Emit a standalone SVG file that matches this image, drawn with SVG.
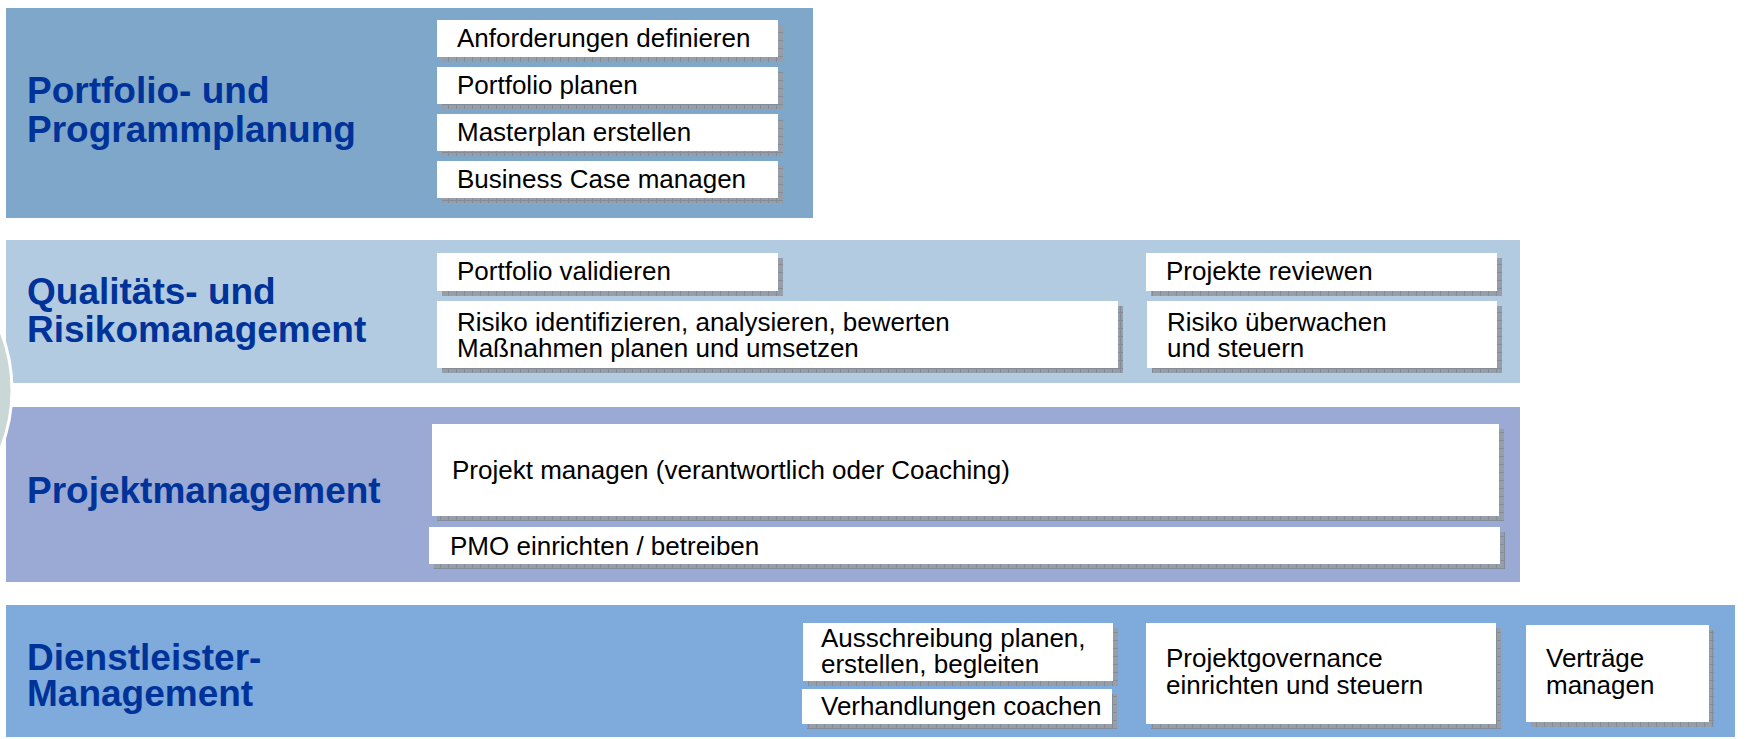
<svg xmlns="http://www.w3.org/2000/svg" width="1746" height="739" viewBox="0 0 1746 739">
<style>
.title{font-family:"Liberation Sans",Arial,sans-serif;font-weight:bold;font-size:37px;fill:#003399}
.txt{font-family:"Liberation Sans",Arial,sans-serif;font-size:26px;fill:#000}
.box{fill:#ffffff}
.sh{fill:url(#shp)}
</style>
<defs>
<pattern id="shp" width="8" height="8" patternUnits="userSpaceOnUse">
<rect width="8" height="8" fill="#959ea9"/>
<path d="M0 0.5H8M0.5 0V8" stroke="#838c97" stroke-width="1"/>
</pattern>
</defs>
<rect width="1746" height="739" fill="#ffffff"/>

<g id="band-portfolio">
<rect x="6" y="8" width="807" height="210" fill="#7fa7ca"/>
<text class="title" x="27" y="103">Portfolio- und</text>
<text class="title" x="27" y="142">Programmplanung</text>
</g>
<g id="band-qualitaet">
<rect x="6" y="240" width="1514" height="143" fill="#b3cbe0"/>
<text class="title" x="27" y="304">Qualitäts- und</text>
<text class="title" x="27" y="342">Risikomanagement</text>
</g>
<g id="band-projekt">
<rect x="6" y="407" width="1514" height="175" fill="#9aaad4"/>
<text class="title" x="27" y="503">Projektmanagement</text>
</g>
<g id="band-dienstleister">
<rect x="6" y="605" width="1729" height="132" fill="#7faadc"/>
<text class="title" x="27" y="670">Dienstleister-</text>
<text class="title" x="27" y="706">Management</text>
</g>

<circle id="deco-circle" cx="-148" cy="390" r="160" fill="#c9d7d6" stroke="#ffffff" stroke-width="3"/>

<g id="connectors"/>

<g id="box-anforderungen">
<rect class="sh" x="442" y="25" width="341" height="37"/>
<rect class="box" x="437" y="20" width="341" height="37"/>
<text class="txt" x="457" y="47">Anforderungen definieren</text>
</g>
<g id="box-portfolio-planen">
<rect class="sh" x="442" y="72" width="341" height="37"/>
<rect class="box" x="437" y="67" width="341" height="37"/>
<text class="txt" x="457" y="94">Portfolio planen</text>
</g>
<g id="box-masterplan">
<rect class="sh" x="442" y="119" width="341" height="37"/>
<rect class="box" x="437" y="114" width="341" height="37"/>
<text class="txt" x="457" y="141">Masterplan erstellen</text>
</g>
<g id="box-business-case">
<rect class="sh" x="442" y="166" width="341" height="37"/>
<rect class="box" x="437" y="161" width="341" height="37"/>
<text class="txt" x="457" y="188">Business Case managen</text>
</g>

<g id="box-portfolio-validieren">
<rect class="sh" x="442" y="258" width="341" height="38"/>
<rect class="box" x="437" y="253" width="341" height="38"/>
<text class="txt" x="457" y="280">Portfolio validieren</text>
</g>
<g id="box-risiko-identifizieren">
<rect class="sh" x="442" y="306" width="681" height="67"/>
<rect class="box" x="437" y="301" width="681" height="67"/>
<text class="txt" x="457" y="331">Risiko identifizieren, analysieren, bewerten</text>
<text class="txt" x="457" y="357">Maßnahmen planen und umsetzen</text>
</g>
<g id="box-projekte-reviewen">
<rect class="sh" x="1151" y="258" width="351" height="38"/>
<rect class="box" x="1146" y="253" width="351" height="38"/>
<text class="txt" x="1166" y="280">Projekte reviewen</text>
</g>
<g id="box-risiko-ueberwachen">
<rect class="sh" x="1152" y="306" width="350" height="67"/>
<rect class="box" x="1147" y="301" width="350" height="67"/>
<text class="txt" x="1167" y="331">Risiko überwachen</text>
<text class="txt" x="1167" y="357">und steuern</text>
</g>

<g id="box-projekt-managen">
<rect class="sh" x="437" y="429" width="1067" height="92"/>
<rect class="box" x="432" y="424" width="1067" height="92"/>
<text class="txt" x="452" y="479">Projekt managen (verantwortlich oder Coaching)</text>
</g>
<g id="box-pmo">
<rect class="sh" x="434" y="532" width="1071" height="37"/>
<rect class="box" x="429" y="527" width="1071" height="37"/>
<text class="txt" x="450" y="555">PMO einrichten / betreiben</text>
</g>

<g id="box-ausschreibung">
<rect class="sh" x="808" y="628" width="310" height="58"/>
<rect class="box" x="803" y="623" width="310" height="58"/>
<text class="txt" x="821" y="647">Ausschreibung planen,</text>
<text class="txt" x="821" y="673">erstellen, begleiten</text>
</g>
<g id="box-verhandlungen">
<rect class="sh" x="807" y="694" width="310" height="35"/>
<rect class="box" x="802" y="689" width="310" height="35"/>
<text class="txt" x="821" y="715">Verhandlungen coachen</text>
</g>
<g id="box-projektgovernance">
<rect class="sh" x="1151" y="628" width="350" height="101"/>
<rect class="box" x="1146" y="623" width="350" height="101"/>
<text class="txt" x="1166" y="667">Projektgovernance</text>
<text class="txt" x="1166" y="694">einrichten und steuern</text>
</g>
<g id="box-vertraege">
<rect class="sh" x="1531" y="630" width="183" height="97"/>
<rect class="box" x="1526" y="625" width="183" height="97"/>
<text class="txt" x="1546" y="667">Verträge</text>
<text class="txt" x="1546" y="694">managen</text>
</g>
</svg>
